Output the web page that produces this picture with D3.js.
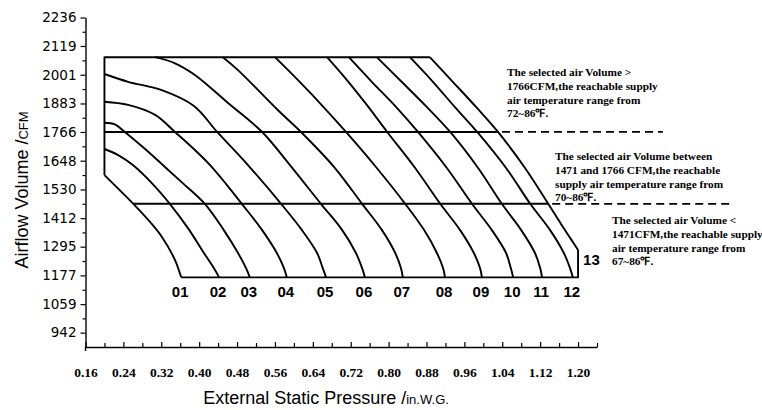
<!DOCTYPE html>
<html><head><meta charset="utf-8">
<script src="https://cdn.jsdelivr.net/npm/d3@7/dist/d3.min.js"></script>
<style>html,body{margin:0;padding:0;background:#fff}</style>
</head><body>
<svg id="chart" width="762" height="410"></svg>
<script>
// ---------- data ----------
const yTickValues = [2236,2119,2001,1883,1766,1648,1530,1412,1295,1177,1059,942];
const xTickValues = [0.16,0.24,0.32,0.40,0.48,0.56,0.64,0.72,0.80,0.88,0.96,1.04,1.12,1.20];
const xTickLabels = ["0.16","0.24","0.32","0.40","0.48","0.56","0.64","0.72","0.80","0.88","0.96","1.04","1.12","1.20"];
const curveNames = ["01","02","03","04","05","06","07","08","09","10","11","12"];

// [pressure in.W.G., airflow CFM]
const curve01 = [[0.200,1589],[0.261,1471],[0.292,1406],[0.321,1336],[0.349,1240],[0.362,1169]];
const curve02 = [[0.200,1696],[0.229,1671],[0.260,1630],[0.300,1556],[0.338,1471],[0.376,1372],[0.410,1269],[0.431,1207],[0.442,1169]];
const curve03 = [[0.200,1804],[0.222,1797],[0.243,1766],[0.281,1704],[0.319,1638],[0.360,1565],[0.412,1471],[0.452,1363],[0.482,1269],[0.499,1207],[0.507,1169]];
const curve04 = [[0.200,1890],[0.250,1877],[0.307,1836],[0.349,1766],[0.391,1692],[0.423,1630],[0.457,1552],[0.490,1471],[0.533,1363],[0.564,1269],[0.579,1207],[0.585,1169]];
const curve05 = [[0.200,2004],[0.250,1972],[0.321,1938],[0.389,1873],[0.438,1766],[0.503,1630],[0.573,1471],[0.617,1363],[0.649,1269],[0.661,1207],[0.668,1169]];
const curve06 = [[0.307,2073],[0.349,2048],[0.391,2000],[0.461,1885],[0.533,1766],[0.590,1634],[0.657,1471],[0.702,1363],[0.731,1269],[0.744,1207],[0.750,1169]];
const curve07 = [[0.450,2073],[0.482,2020],[0.566,1856],[0.615,1766],[0.685,1622],[0.744,1471],[0.786,1363],[0.814,1269],[0.826,1207],[0.830,1169]];
const curve08 = [[0.560,2073],[0.604,1988],[0.651,1893],[0.710,1766],[0.775,1618],[0.835,1471],[0.875,1363],[0.902,1269],[0.915,1207],[0.919,1169]];
const curve09 = [[0.670,2073],[0.712,1979],[0.754,1877],[0.797,1766],[0.856,1618],[0.909,1471],[0.951,1363],[0.980,1269],[0.993,1207],[0.997,1169]];
const curve10 = [[0.716,2073],[0.765,1971],[0.816,1868],[0.862,1766],[0.923,1618],[0.976,1471],[1.018,1363],[1.048,1269],[1.058,1207],[1.063,1169]];
const curve11 = [[0.775,2073],[0.828,1971],[0.881,1868],[0.930,1766],[0.989,1618],[1.039,1471],[1.080,1363],[1.109,1269],[1.120,1207],[1.124,1169]];
const curve12 = [[0.845,2073],[0.894,1971],[0.940,1868],[0.987,1766],[1.048,1618],[1.099,1471],[1.141,1363],[1.170,1269],[1.183,1207],[1.189,1169]];
const curve13 = [[0.887,2073],[0.936,1971],[0.985,1868],[1.031,1766],[1.088,1618],[1.137,1471],[1.164,1388],[1.185,1326],[1.200,1281]];

// envelope
const topFlow = 2073, bottomFlow = 1169, leftPressure = 0.20, rightPressure = 1.20;
const topRightPressure = 0.887, leftCornerFlow = 1589, bottomLeftPressure = 0.362, rightCornerFlow = 1281;

// threshold lines
const lineFlows = [1766, 1471];
const lineSolidStart = [0.200, 0.261];
const lineSolidEnd = [1.031, 1.137];
const lineDashEnd = [1.379, 1.521];

const note1 = ["The selected air Volume >","1766CFM,the reachable supply","air temperature range from","72~86℉."];
const note2 = ["The selected air Volume between","1471 and 1766 CFM,the reachable","supply air temperature range from","70~86℉."];
const note3 = ["The selected air Volume <","1471CFM,the reachable supply","air temperature range from","67~86℉."];

// ---------- drawing ----------
const svg = d3.select("#chart");
const x = d3.scaleLinear().domain([0.16, 1.24]).range([85.5, 597]);
const y = d3.scaleLinear().domain([883, 2236]).range([347, 17.5]);

// axes
const yAxis = d3.axisLeft(y).tickValues(yTickValues).tickSize(5).tickSizeOuter(0).tickPadding(4).tickFormat(d => String(d));
const gy = svg.append("g").attr("transform", "translate(85.5,0)").call(yAxis);
gy.selectAll("text").style("font-family", "'DejaVu Sans', sans-serif").style("font-size", "13.5px").attr("fill", "#000");
const yMinor = d3.pairs(yTickValues).map(p => (p[0] + p[1]) / 2);
svg.append("g").attr("transform", "translate(85.5,0)")
  .call(d3.axisLeft(y).tickValues(yMinor).tickSize(3).tickSizeOuter(0).tickFormat(""))
  .select(".domain").remove();

const xAxis = d3.axisBottom(x).tickValues(xTickValues).tickSize(-5).tickSizeOuter(0).tickPadding(20)
  .tickFormat((d, i) => xTickLabels[i]);
const gx = svg.append("g").attr("transform", "translate(0,347)").call(xAxis);
gx.selectAll("text").style("font-family", "'Liberation Serif', 'Times New Roman', serif").style("font-weight", "bold").style("font-size", "13.5px").attr("fill", "#000");
const xMinor = d3.pairs(xTickValues.concat([1.28])).map(p => (p[0] + p[1]) / 2);
svg.append("g").attr("transform", "translate(0,347)")
  .call(d3.axisBottom(x).tickValues(xMinor).tickSize(-4).tickSizeOuter(0).tickFormat(""))
  .select(".domain").remove();
svg.selectAll(".domain").attr("stroke", "#000").attr("stroke-width", 1.4);
svg.selectAll(".tick line").attr("stroke", "#000").attr("stroke-width", 1.2);
svg.append("line").attr("x1", 85.5).attr("x2", 85.5).attr("y1", 347).attr("y2", 351).attr("stroke", "#000").attr("stroke-width", 1.4);

// axis titles
const yt = svg.append("text").attr("transform", "translate(28,190) rotate(-90)")
  .attr("text-anchor", "middle").attr("font-family", "'Liberation Sans', Arial, sans-serif").attr("fill", "#000");
yt.append("tspan").attr("font-size", 18).text("Airflow Volume /");
yt.append("tspan").attr("font-size", 13).text("CFM");
const xt = svg.append("text").attr("x", 326).attr("y", 404)
  .attr("text-anchor", "middle").attr("font-family", "'Liberation Sans', Arial, sans-serif").attr("fill", "#000");
xt.append("tspan").attr("font-size", 18).text("External Static Pressure /");
xt.append("tspan").attr("font-size", 13).text("in.W.G.");

// envelope
const plot = svg.append("g").attr("fill", "none").attr("stroke", "#000").attr("stroke-width", 1.9).attr("stroke-linejoin", "round");
plot.append("path").attr("d", d3.line()([
  [x(bottomLeftPressure), y(bottomFlow)], [x(rightPressure), y(bottomFlow)], [x(rightPressure), y(rightCornerFlow)]
]));
plot.append("path").attr("d", d3.line()([
  [x(leftPressure), y(leftCornerFlow)], [x(leftPressure), y(topFlow)], [x(topRightPressure), y(topFlow)]
]));

// curves
const line = d3.line().x(d => x(d[0])).y(d => y(d[1])).curve(d3.curveCatmullRom.alpha(0.5));
const curves = [curve01,curve02,curve03,curve04,curve05,curve06,curve07,curve08,curve09,curve10,curve11,curve12,curve13];
curves.forEach(c => plot.append("path").attr("d", line(c)));

// threshold lines
lineFlows.forEach((f, i) => {
  plot.append("line").attr("x1", x(lineSolidStart[i])).attr("x2", x(lineSolidEnd[i]))
    .attr("y1", y(f)).attr("y2", y(f)).attr("stroke-width", 2);
  plot.append("line").attr("x1", x(lineSolidEnd[i]) + 4).attr("x2", x(lineDashEnd[i]))
    .attr("y1", y(f)).attr("y2", y(f)).attr("stroke-width", 1.8).attr("stroke-dasharray", "8,5");
});

// curve labels
const lab = svg.append("g").attr("font-family", "'Liberation Sans', Arial, sans-serif").attr("font-size", 15).attr("font-weight", "bold").attr("fill", "#000").attr("text-anchor", "middle");
curveNames.forEach((n, i) => {
  const c = curves[i];
  const last = c[c.length - 1];
  lab.append("text").attr("x", x(last[0]) - 1).attr("y", y(bottomFlow) + 20).text(n);
});
lab.append("text").attr("text-anchor", "start").attr("x", x(rightPressure) + 5).attr("y", 265).text("13");

// notes
function note(lines, x0, y0) {
  const t = svg.append("text").attr("font-family", "'Liberation Serif', 'Times New Roman', serif")
    .attr("font-weight", "bold").attr("font-size", 11.3).attr("fill", "#000");
  lines.forEach((s, i) => t.append("tspan").attr("x", x0).attr("y", y0 + i * 13.8).text(s));
}
note(note1, 507, 76);
note(note2, 555, 160);
note(note3, 612, 224);
</script>
</body></html>
